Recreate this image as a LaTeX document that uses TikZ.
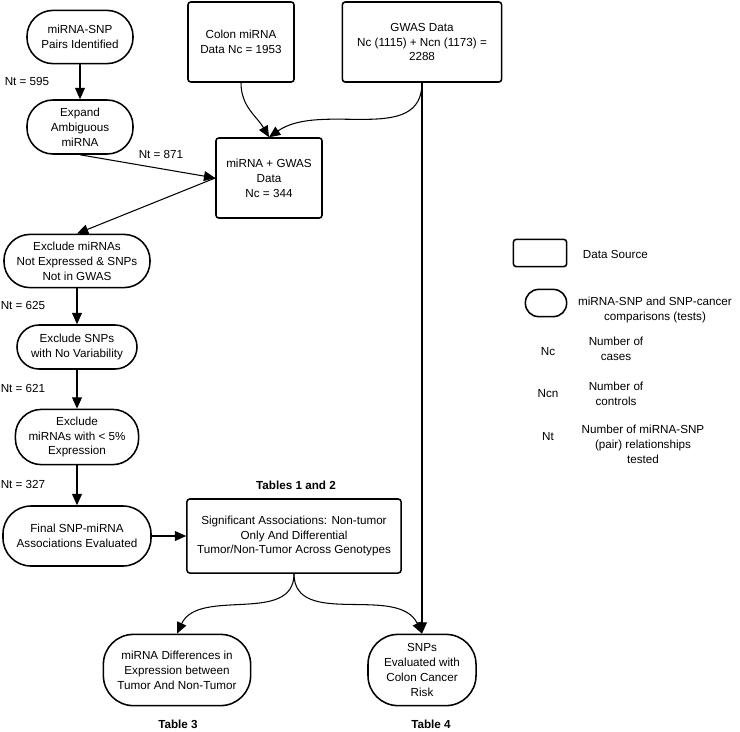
\documentclass[tikz,border=0pt]{standalone}
\usepackage{fontspec}
\setmainfont{Liberation Sans}
\usetikzlibrary{arrows.meta}

\tikzset{
  srcbox/.style={draw, line width=1.1pt, rounded corners=2pt, align=center, inner sep=1pt},
  testbox/.style={draw, line width=1.1pt, rounded corners=#1, align=center, inner sep=1pt},
  testbox/.default=0.6cm,
  flow/.style={-{Triangle[length=8pt,width=7pt]}, line width=0.75pt},
  note/.style={align=center},
  tablbl/.style={font=\fontsize{8.3}{10.6}\selectfont\bfseries},
}

\begin{document}
\begin{tikzpicture}[x=0.025cm, y=-0.025cm, font=\fontsize{8.3}{10.6}\selectfont]
  \useasboundingbox (0,0) rectangle (740,731);

  % Pair selection steps
  \node[testbox=0.65cm, minimum width=2.65cm, minimum height=1.33cm] (pairs) at (80,37) {miRNA-SNP\\Pairs Identified};
  \node[testbox=0.65cm, minimum width=2.65cm, minimum height=1.35cm] (expand) at (80,127) {Expand\\Ambiguous\\miRNA};

  % Data sources
  \node[srcbox, minimum width=2.65cm, minimum height=2cm] (colon) at (241,42) {Colon miRNA\\Data Nc = 1953};
  \node[srcbox, minimum width=3.98cm, minimum height=2cm] (gwas) at (422,42) {GWAS Data\\Nc (1115) + Ncn (1173) =\\2288};
  \node[srcbox, minimum width=2.65cm, minimum height=2cm] (mg) at (269,178) {miRNA + GWAS\\Data\\Nc = 344};

  % Filtering steps
  \node[testbox=0.65cm, minimum width=3.65cm, minimum height=1.33cm] (exclexpr) at (77,261) {Exclude miRNAs\\Not Expressed \& SNPs\\Not in GWAS};
  \node[testbox=0.55cm, minimum width=3.0cm, minimum height=1.1cm] (exclvar) at (77,347) {Exclude SNPs\\with No Variability};
  \node[testbox=0.65cm, minimum width=3.08cm, minimum height=1.38cm] (exclpct) at (77,437) {Exclude\\miRNAs with < 5\%\\Expression};
  \node[testbox=0.7cm, minimum width=3.7cm, minimum height=1.5cm] (final) at (77,536) {Final SNP-miRNA\\Associations Evaluated};

  % Results
  \node[srcbox, minimum width=5.35cm, minimum height=1.85cm] (signif) at (294,536) {Significant Associations: Non-tumor\\Only And Differential\\Tumor/Non-Tumor Across Genotypes};
  \node[testbox=0.75cm, minimum width=3.68cm, minimum height=1.78cm] (diffexpr) at (177,670) {miRNA Differences in\\Expression between\\Tumor And Non-Tumor};
  \node[testbox=0.75cm, minimum width=2.7cm, minimum height=1.78cm] (risk) at (422,670) {SNPs\\Evaluated with\\Colon Cancer\\Risk};

  % Counts
  \node (nt595) at (27,81) {Nt = 595};
  \node (nt871) at (161,154) {Nt = 871};
  \node (nt625) at (23,305) {Nt = 625};
  \node (nt621) at (23,388) {Nt = 621};
  \node (nt327) at (23,484) {Nt = 327};

  % Table labels
  \node[tablbl] (tab12) at (296,485) {Tables 1 and 2};
  \node[tablbl] (tab3) at (178,724) {Table 3};
  \node[tablbl] (tab4) at (431,724) {Table 4};

  % Connectors
  \draw[flow] (pairs) -- (expand);
  \draw[flow] (expand.south) -- (mg.west);
  \draw[flow] (colon.south) to[out=-90, in=120] (mg.north);
  \draw[flow] (gwas.south) to[out=-90, in=35] (mg.north);
  \draw[flow] (gwas.south) -- (risk.north);
  \draw[flow] (mg.west) -- (exclexpr.north);
  \draw[flow] (exclexpr) -- (exclvar);
  \draw[flow] (exclvar) -- (exclpct);
  \draw[flow] (exclpct) -- (final);
  \draw[flow] (final) -- (signif);
  \draw[flow] (signif.south) to[out=-90, in=65] (diffexpr.north);
  \draw[flow] (signif.south) to[out=-90, in=115] (risk.north);

  % Legend
  \node[srcbox, minimum width=1.33cm, minimum height=0.68cm] (keysrc) at (540,253) {};
  \node[right] (keysrclbl) at (578,254) {Data Source};
  \node[testbox=0.33cm, minimum width=1.03cm, minimum height=0.68cm] (keytest) at (546,303) {};
  \node[note] (keytestlbl) at (655,310) {miRNA-SNP and SNP-cancer\\comparisons (tests)};
  \node (keync) at (548,352) {Nc};
  \node[note] (keynclbl) at (616,349) {Number of\\cases};
  \node (keyncn) at (548,394) {Ncn};
  \node[note] (keyncnlbl) at (616,394) {Number of\\controls};
  \node (keynt) at (548,437) {Nt};
  \node[note] (keyntlbl) at (643,444) {Number of miRNA-SNP\\(pair) relationships\\tested};
\end{tikzpicture}
\end{document}
